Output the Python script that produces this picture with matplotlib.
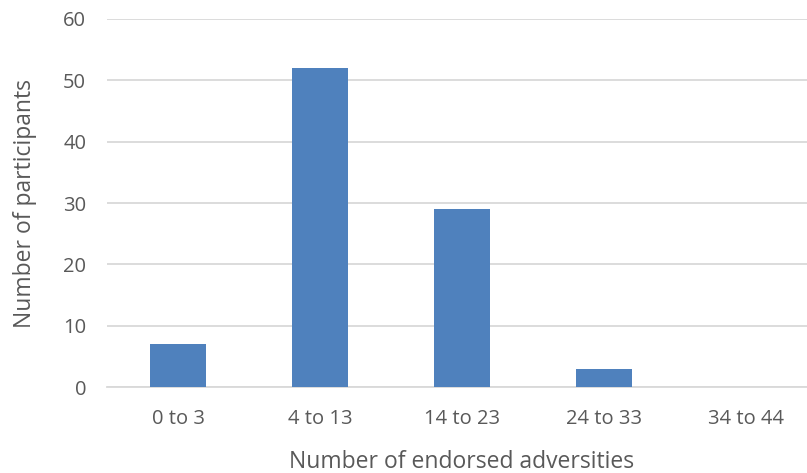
import matplotlib
matplotlib.use("Agg")
import matplotlib.pyplot as plt

categories = ["0 to 3", "4 to 13", "14 to 23", "24 to 33", "34 to 44"]
participants = [7, 52, 29, 3, 0]
y_ticks = [0, 10, 20, 30, 40, 50, 60]

plt.rcParams['font.family'] = ['Open Sans', 'DejaVu Sans']
txt = '#595959'

fig = plt.figure(figsize=(8.07, 4.73), dpi=100)
ax = fig.add_axes([107/807, 1-387/473, 710/807, 368/473])
x = list(range(len(categories)))
ax.bar(x, participants, width=0.4, color='#4F81BD', zorder=3)
ax.set_xlim(-0.5, len(categories)-0.5)
ax.set_ylim(0, 60)
ax.set_yticks(y_ticks)
ax.set_xticks(x)
ax.set_xticklabels(categories)
ax.grid(axis='y', color='#D9D9D9', linewidth=1.3, zorder=0)
for s in ['top', 'right', 'left']:
    ax.spines[s].set_visible(False)
ax.spines['bottom'].set_color('#D9D9D9')
ax.spines['bottom'].set_linewidth(1.3)
ax.tick_params(axis='both', length=0, labelsize=14.5, colors=txt)
ax.tick_params(axis='y', pad=15)
ax.tick_params(axis='x', pad=16)
ax.set_xlabel("Number of endorsed adversities", fontsize=16.5, color=txt, labelpad=15)
ax.set_ylabel("Number of participants", fontsize=16.5, color=txt, labelpad=19)
fig.savefig("out.png", dpi=100)
